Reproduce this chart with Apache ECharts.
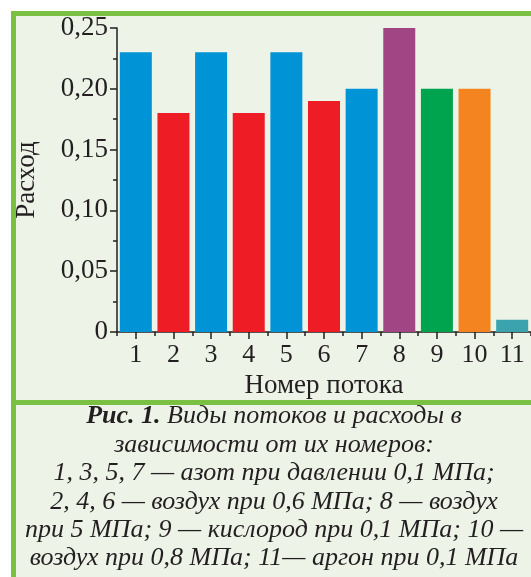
<!DOCTYPE html>
<html>
<head>
<meta charset="utf-8">
<script src="https://cdn.jsdelivr.net/npm/echarts@6/dist/echarts.min.js"></script>
<style>
  html, body { margin: 0; padding: 0; background: #ffffff; }
  #chart { width: 531px; height: 577px; }
</style>
</head>
<body>
<div id="chart"></div>
<script>
// ---- data ----
const categories = ['1', '2', '3', '4', '5', '6', '7', '8', '9', '10', '11'];
const values = [0.23, 0.18, 0.23, 0.18, 0.23, 0.19, 0.20, 0.25, 0.20, 0.20, 0.01];
const barColors = ['#0093d6', '#ee1c25', '#0093d6', '#ee1c25', '#0093d6', '#ee1c25', '#0093d6', '#a24584', '#00a34e', '#f38420', '#3aa3ad'];
const yTicks = [0, 0.05, 0.10, 0.15, 0.20, 0.25];
const yAxisName = 'Расход';
const xAxisName = 'Номер потока';
const captionLines = [
  '{b|Рис. 1.} Виды потоков и расходы в',
  'зависимости от их номеров:',
  '1, 3, 5, 7 — азот при давлении 0,1 МПа;',
  '2, 4, 6 — воздух при 0,6 МПа; 8 — воздух',
  'при 5 МПа; 9 — кислород при 0,1 МПа; 10 —',
  'воздух при 0,8 МПа; 11— аргон при 0,1 МПа'
];

const serif = '"Liberation Serif", "DejaVu Serif", serif';
const textColor = '#231f20';
const bg = '#eef3e8';
const green = '#7ac143';

const captionBaselines = [423, 452, 480, 509, 537, 565];
const captionGraphics = captionLines.map((t, i) => ({
  type: 'text',
  x: 274,
  y: captionBaselines[i] - 7,
  z: 10,
  style: {
    text: t,
    fill: textColor,
    font: 'italic 26px ' + serif,
    align: 'center',
    verticalAlign: 'middle',
    rich: {
      b: { fontStyle: 'italic', fontWeight: 'bold', fontSize: 26, fontFamily: serif, fill: textColor }
    }
  }
}));

const chart = echarts.init(document.getElementById('chart'), null, { renderer: 'canvas' });
chart.setOption({
  backgroundColor: '#ffffff',
  animation: false,
  graphic: [
    { type: 'rect', z: -100, shape: { x: 13.5, y: 13.5, width: 700, height: 389 },
      style: { fill: bg, stroke: green, lineWidth: 5 } },
    { type: 'rect', z: -100, shape: { x: 13.5, y: 402.5, width: 700, height: 300 },
      style: { fill: bg, stroke: green, lineWidth: 5 } }
  ].concat(captionGraphics),
  grid: { left: 117, top: 28, width: 422.4, height: 304, containLabel: false },
  xAxis: [
    {
      type: 'category',
      data: categories,
      position: 'bottom',
      name: xAxisName,
      nameLocation: 'middle',
      nameGap: 40,
      nameTextStyle: { fontFamily: serif, fontSize: 27, color: textColor },
      axisLine: { show: true, lineStyle: { color: textColor, width: 1.5 } },
      axisTick: { show: true, alignWithLabel: true, length: 7, lineStyle: { color: textColor, width: 1.5 } },
      axisLabel: { fontFamily: serif, fontSize: 26, color: textColor, margin: 10, interval: 0 },
      splitLine: { show: false }
    },
    {
      type: 'category',
      data: categories,
      position: 'bottom',
      axisLine: { show: false },
      axisTick: { show: true, alignWithLabel: false, length: 4, lineStyle: { color: textColor, width: 1.5 } },
      axisLabel: { show: false },
      splitLine: { show: false }
    }
  ],
  yAxis: {
    type: 'value',
    min: 0,
    max: 0.25,
    interval: 0.05,
    name: yAxisName,
    nameLocation: 'middle',
    nameGap: 77,
    nameTextStyle: { fontFamily: serif, fontSize: 27, color: textColor },
    axisLine: { show: true, lineStyle: { color: textColor, width: 1.5 } },
    axisTick: { show: true, length: 7, lineStyle: { color: textColor, width: 1.5 } },
    minorTick: { show: true, splitNumber: 2, length: 4, lineStyle: { color: textColor, width: 1.5 } },
    axisLabel: {
      fontFamily: serif, fontSize: 27, color: textColor, margin: 9,
      formatter: function (v) {
        const hit = yTicks.find(t => Math.abs(t - v) < 1e-9);
        if (hit === undefined) return '';
        return hit === 0 ? '0' : hit.toFixed(2).replace('.', ',');
      }
    },
    splitLine: { show: false }
  },
  series: [{
    type: 'bar',
    xAxisIndex: 0,
    barWidth: 32,
    data: values.map((v, i) => ({ value: v, itemStyle: { color: barColors[i] } }))
  }]
});
</script>
</body>
</html>
